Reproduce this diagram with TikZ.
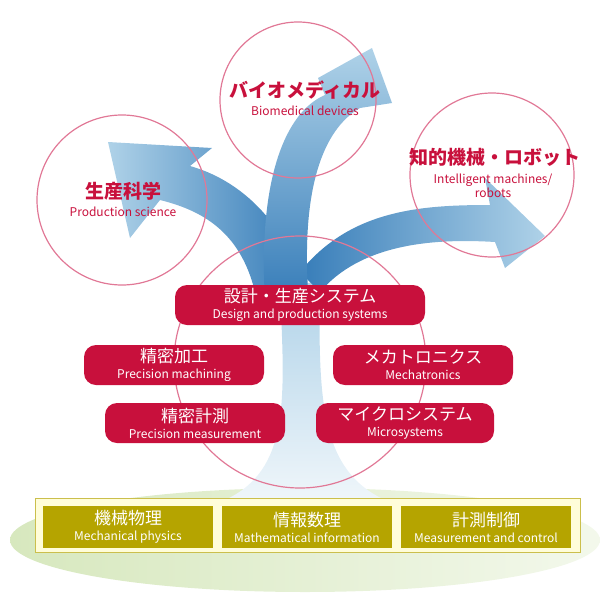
\documentclass[tikz,border=0pt]{standalone}
\usepackage{fontspec}
\setmainfont{Noto Sans CJK JP}
\definecolor{fieldred}{RGB}{200,16,60}
\definecolor{baseolive}{RGB}{181,164,0}
\definecolor{ringpink}{RGB}{225,120,150}
\definecolor{arrowblue}{RGB}{55,125,185}
\definecolor{arrowpale}{RGB}{175,210,232}
\definecolor{groundgreen}{RGB}{215,232,190}
\tikzset{
  field/.style={fill=fieldred,rounded corners=12pt,text=white,align=center,minimum height=40pt,inner sep=0pt,font=\fontsize{17}{19}\selectfont},
  basebox/.style={fill=baseolive,text=white,align=center,minimum width=170pt,minimum height=42pt,inner sep=0pt,font=\fontsize{17}{19}\selectfont},
  ring/.style={draw=ringpink,line width=1.2pt},
  sub/.style={font=\fontsize{12}{14}\selectfont},
  goal/.style={text=fieldred,align=center,font=\fontsize{19}{22}\selectfont\bfseries}
}
\newcommand\subline[1]{\\[-3pt]{\fontsize{12}{14}\selectfont #1}}
\begin{document}
\begin{tikzpicture}[x=1pt,y=1pt,yscale=-1]
\useasboundingbox (0,0) rectangle (600,600);

%ground
\shade[left color=groundgreen,right color=groundgreen!30] (305,540) ellipse (295 and 52);

%trunk
\shade[top color=arrowpale,bottom color=white!80!arrowpale] (225,500) .. controls (290,470) and (285,400) .. (280,290) -- (320,280) .. controls (318,400) and (320,470) .. (385,500) -- cycle;

%arrows
\shade[left color=arrowpale,right color=arrowblue] (255,292) .. controls (240,230) and (200,210) .. (160,200) -- (130,238) -- (108,142) -- (212,148) -- (190,166) .. controls (240,180) and (280,220) .. (298,272) -- cycle;
\shade[left color=arrowblue,right color=arrowpale] (300,272) .. controls (350,210) and (420,205) .. (490,205) -- (485,178) -- (545,236) -- (505,268) -- (495,242) .. controls (430,238) and (360,245) .. (320,292) -- cycle;
\shade[bottom color=arrowblue,top color=arrowpale] (265,300) .. controls (258,180) and (285,112) .. (325,95) -- (318,78) -- (372,48) -- (392,103) -- (360,108) .. controls (322,130) and (302,190) .. (308,290) -- cycle;

%rings
\draw[ring] (300,362) circle (126);
\draw[ring] (122,200) circle (85);
\draw[ring] (298,100) circle (78);
\draw[ring] (492,175) circle (82);

%goals
\node[goal] (bio) at (305,90) {バイオメディカル};
\node[sub,text=fieldred] (biosub) at (305,111) {Biomedical devices};
\node[goal] (prod) at (123,191) {生産科学};
\node[sub,text=fieldred] (prodsub) at (123,212) {Production science};
\node[goal] (robo) at (495,157) {知的機械・ロボット};
\node[sub,text=fieldred,align=center] (robosub) at (493,186) {Intelligent machines/\\robots};

%fields
\node[field,minimum width=250pt] (design) at (300,305) {設計・生産システム\subline{Design and production systems}};
\node[field,minimum width=180pt] (mach) at (174,365) {精密加工\subline{Precision machining}};
\node[field,minimum width=180pt] (mecha) at (423,365) {メカトロニクス\subline{Mechatronics}};
\node[field,minimum width=180pt] (meas) at (195,423) {精密計測\subline{Precision measurement}};
\node[field,minimum width=178pt] (micro) at (405,423) {マイクロシステム\subline{Microsystems}};

%base
\draw[baseolive!70,line width=1pt,fill=white!85!yellow] (35,498) rectangle (580,552);
\node[basebox] (phys) at (128,527) {機械物理\subline{Mechanical physics}};
\node[basebox] (math) at (307,527) {情報数理\subline{Mathematical information}};
\node[basebox] (ctrl) at (486,527) {計測制御\subline{Measurement and control}};
\end{tikzpicture}
\end{document}
